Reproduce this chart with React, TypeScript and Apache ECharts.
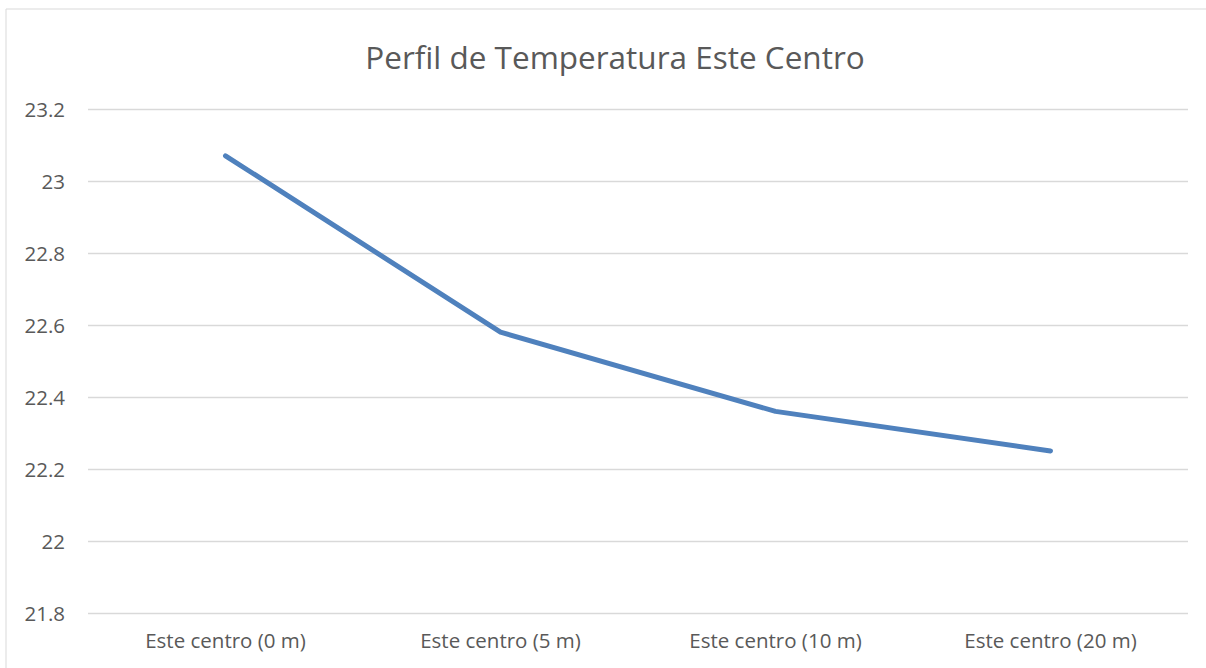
import React, { useEffect, useRef } from "react";
import * as echarts from "echarts";

const categories = [
  "Este centro (0 m)",
  "Este centro (5 m)",
  "Este centro (10 m)",
  "Este centro (20 m)",
];
const temperatures = [23.07, 22.58, 22.36, 22.25];
const yMin = 21.8;
const yMax = 23.2;
const yStep = 0.2;
const titleText = "Perfil de Temperatura Este Centro";

const FONT = "'Open Sans', 'Noto Sans', sans-serif";

export default function App() {
  const ref = useRef<HTMLDivElement>(null);
  useEffect(() => {
    if (!ref.current) return;
    const chart = echarts.init(ref.current, undefined, { renderer: "svg" });
    chart.setOption({
      animation: false,
      backgroundColor: "#ffffff",
      title: {
        text: titleText,
        left: 610,
        textAlign: "center",
        top: 35,
        textStyle: {
          fontFamily: FONT,
          fontSize: 31.5,
          fontWeight: "normal",
          color: "#595959",
        },
      },
      graphic: [
        {
          type: "rect",
          shape: { x: 6, y: 9, width: 1220, height: 700 },
          style: { fill: "none", stroke: "#d9d9d9", lineWidth: 1 },
          silent: true,
        },
      ],
      grid: { left: 88, right: 18, top: 109, bottom: 55, containLabel: false },
      xAxis: {
        type: "category",
        data: categories,
        boundaryGap: true,
        axisLine: { show: false },
        axisTick: { show: false },
        axisLabel: {
          fontFamily: FONT,
          fontSize: 20.5,
          color: "#595959",
          margin: 16,
        },
      },
      yAxis: {
        type: "value",
        min: yMin,
        max: yMax,
        interval: yStep,
        axisLine: { show: false },
        axisTick: { show: false },
        splitLine: { lineStyle: { color: "#d9d9d9", width: 1.3 } },
        axisLabel: {
          fontFamily: FONT,
          fontSize: 20.5,
          color: "#595959",
          margin: 23,
          formatter: (v: number) => String(Math.round(v * 10) / 10),
        },
      },
      series: [
        {
          type: "line",
          data: temperatures,
          showSymbol: false,
          symbol: "none",
          lineStyle: { color: "#4f81bd", width: 5, cap: "round", join: "round" },
          itemStyle: { color: "#4f81bd" },
        },
      ],
    });
    return () => chart.dispose();
  }, []);
  return (
    <div
      ref={ref}
      style={{ position: "fixed", left: 0, top: 0, width: 1206, height: 668 }}
    />
  );
}
